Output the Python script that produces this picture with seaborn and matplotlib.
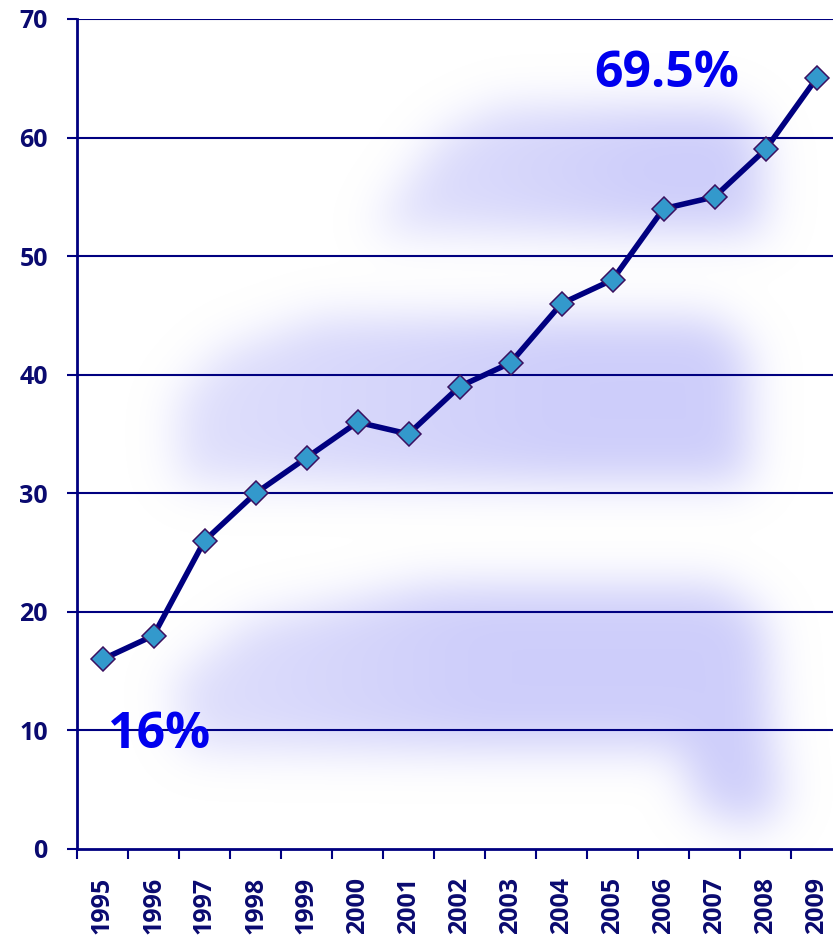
import numpy as np
import pandas as pd
import matplotlib
matplotlib.use("Agg")
import matplotlib.pyplot as plt
from matplotlib.path import Path
import seaborn as sns

years = ["1995", "1996", "1997", "1998", "1999", "2000", "2001", "2002",
         "2003", "2004", "2005", "2006", "2007", "2008", "2009"]
values = [16, 18, 26, 30, 33, 36, 35, 39, 41, 46, 48, 54, 55, 59, 65]
y_ticks = [0, 10, 20, 30, 40, 50, 60, 70]
start_label = "16%"
end_label = "69.5%"

df = pd.DataFrame({"year": years, "value": values})

sns.set_theme(style="white")
plt.rcParams["font.family"] = ["Open Sans", "DejaVu Sans"]

NAVY = "#000080"
W, H = 833, 946
fig = plt.figure(figsize=(W / 100, H / 100), dpi=100)
ax_l, ax_r, ax_t, ax_b = 77, 842, 19, 849
ax = fig.add_axes([ax_l / W, 1 - ax_b / H, (ax_r - ax_l) / W, (ax_b - ax_t) / H])

# soft lavender haze shapes behind the data (pixel space of the axes)
aw, ah = ax_r - ax_l, ax_b - ax_t
yy, xx = np.mgrid[0:ah, 0:aw]
px = xx + ax_l
pts = np.column_stack([px.ravel(), (yy + ax_t).ravel()])
shapes = [
    # polygon, left x, right x of the brightness ramp
    ([(500, 108), (735, 108), (762, 140), (762, 232), (372, 232), (400, 190), (440, 135)], 380, 650),
    ([(320, 318), (715, 318), (748, 352), (748, 482), (178, 482), (176, 400), (220, 352)], 170, 560),
    ([(430, 585), (720, 585), (765, 620), (772, 745), (782, 805), (748, 828), (695, 805),
      (680, 748), (185, 748), (170, 680), (250, 620)], 170, 480),
]
mask = np.zeros((ah, aw))
for poly, x0, x1 in shapes:
    inside = Path(poly).contains_points(pts).reshape(ah, aw)
    ramp = 0.6 + 0.35 * np.clip((px - x0) / (x1 - x0), 0, 1)
    mask = np.maximum(mask, inside * ramp)

sigma = 22
k = np.arange(-3 * sigma, 3 * sigma + 1)
kern = np.exp(-0.5 * (k / sigma) ** 2)
kern /= kern.sum()
blur = np.apply_along_axis(lambda r: np.convolve(r, kern, mode="same"), 1, mask)
blur = np.apply_along_axis(lambda c: np.convolve(c, kern, mode="same"), 0, blur)

haze = np.zeros((ah, aw, 4))
haze[..., 0] = 0.77
haze[..., 1] = 0.77
haze[..., 2] = 0.98
haze[..., 3] = np.clip(blur, 0, 1) * 0.88
ax.imshow(haze, extent=(-0.5, 14.5, 0, 70), origin="upper", aspect="auto",
          zorder=0, interpolation="bilinear")

# grid lines
for v in y_ticks[1:]:
    ax.axhline(v, color=NAVY, lw=1.5, zorder=1)

sns.lineplot(data=df, x="year", y="value", ax=ax, color=NAVY, lw=4,
             marker="D", markersize=12, markerfacecolor="#3399cc",
             markeredgecolor="#3a1060", markeredgewidth=1.1, zorder=3,
             sort=False)

ax.set_xlim(-0.5, 14.5)
ax.set_ylim(0, 70)
ax.set_yticks(y_ticks)
ax.set_xticks(range(len(years)))
ax.set_xticklabels(years, rotation=90)
ax.set_xticks(np.arange(-0.5, 14.6, 1), minor=True)
ax.set_xlabel("")
ax.set_ylabel("")

for s in ["top", "right"]:
    ax.spines[s].set_visible(False)
for s in ["left", "bottom"]:
    ax.spines[s].set_color(NAVY)
    ax.spines[s].set_linewidth(2)
    ax.spines[s].set_zorder(4)

ax.tick_params(axis="y", which="major", length=7, width=1.5, color=NAVY,
               pad=14, labelsize=18, labelcolor="#0a0a70", left=True)
ax.tick_params(axis="x", which="major", length=0, pad=20, labelsize=18,
               labelcolor="#0a0a70")
ax.tick_params(axis="x", which="minor", length=7, width=1.5, color=NAVY,
               bottom=True, direction="out")
for lab in ax.get_xticklabels() + ax.get_yticklabels():
    lab.set_fontweight("bold")

ax.text(1.1, 9.6, start_label, color="#0000ee", fontsize=36, fontweight="bold",
        ha="center", va="center", zorder=5)
ax.text(11.06, 65.4, end_label, color="#0000ee", fontsize=36, fontweight="bold",
        ha="center", va="center", zorder=5)

ax.set_facecolor("white")
fig.savefig("out.png", dpi=100)
